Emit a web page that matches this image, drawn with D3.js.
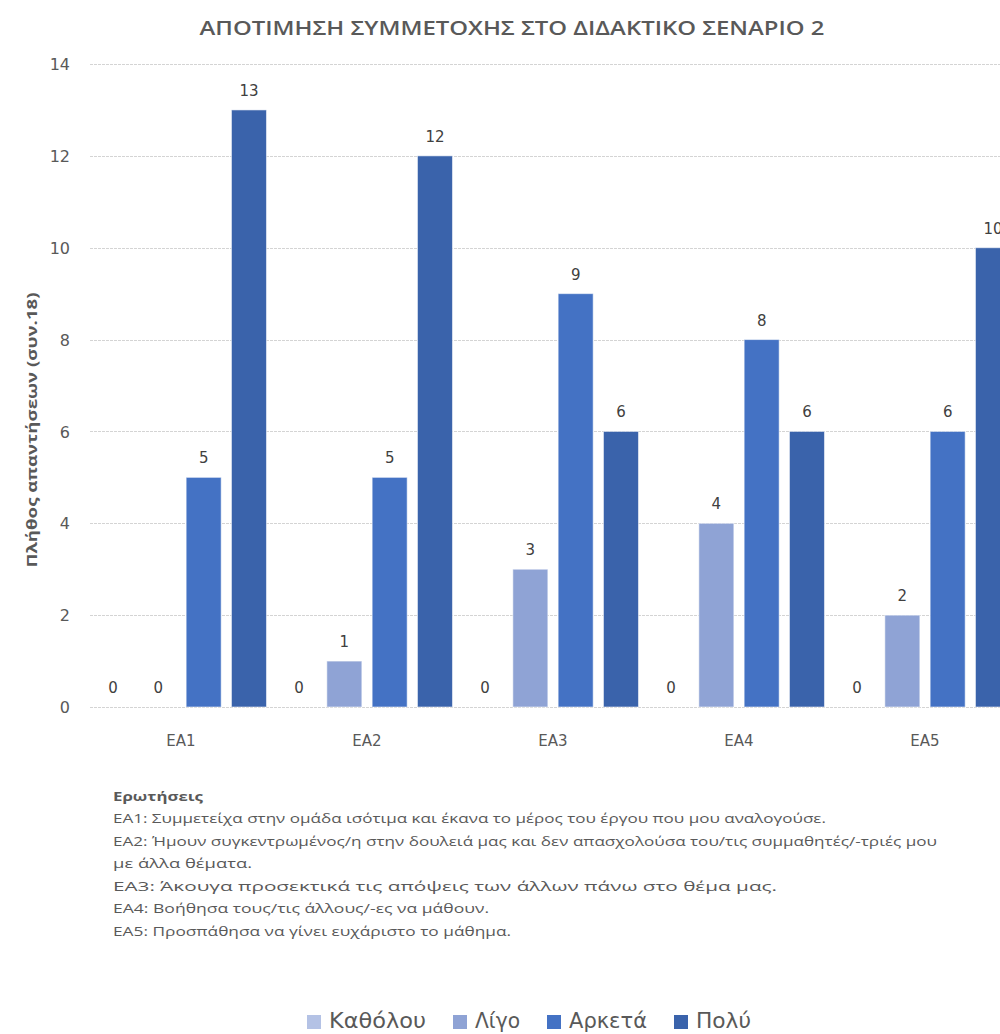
<!DOCTYPE html>
<html>
<head>
<meta charset="utf-8">
<script src="https://cdn.jsdelivr.net/npm/d3@7"></script>
<style>
  html, body { margin: 0; padding: 0; background: #ffffff; }
  svg { display: block; }
</style>
</head>
<body>
<svg id="chart" width="1000" height="1034"></svg>
<script>
// Question codes along the x axis
const categories = ["ΕΑ1", "ΕΑ2", "ΕΑ3", "ΕΑ4", "ΕΑ5"];
// Answer scale (one bar per answer in each group)
const seriesNames = ["Καθόλου", "Λίγο", "Αρκετά", "Πολύ"];
// Number of answers per question, per answer level
const kathólou = [0, 0, 0, 0, 0];
const lígo     = [0, 1, 3, 4, 2];
const arketá   = [5, 5, 9, 8, 6];
const polý     = [13, 12, 6, 6, 10];
const yTicks = [0, 2, 4, 6, 8, 10, 12, 14];

const seriesValues = [kathólou, lígo, arketá, polý];
const colors = ["#b4c2e5", "#8fa3d5", "#4472c4", "#3a63ab"];

const title = "ΑΠΟΤΙΜΗΣΗ ΣΥΜΜΕΤΟΧΗΣ ΣΤΟ ΔΙΔΑΚΤΙΚΟ ΣΕΝΑΡΙΟ 2";
const yTitle = "Πλήθος απαντήσεων (συν.18)";
const notesHeader = "Ερωτήσεις";
const notes = [
  "ΕΑ1: Συμμετείχα στην ομάδα ισότιμα και έκανα το μέρος του έργου που μου αναλογούσε.",
  "ΕΑ2: Ήμουν συγκεντρωμένος/η στην δουλειά μας και δεν απασχολούσα του/τις συμμαθητές/-τριές μου",
  "με άλλα θέματα.",
  "ΕΑ3: Άκουγα προσεκτικά τις απόψεις των άλλων πάνω στο θέμα μας.",
  "ΕΑ4: Βοήθησα τους/τις άλλους/-ες να μάθουν.",
  "ΕΑ5: Προσπάθησα να γίνει ευχάριστο το μάθημα."
];

const data = categories.map((c, i) => ({
  cat: c,
  vals: seriesNames.map((s, j) => ({ series: s, value: seriesValues[j][i], idx: j }))
}));

const svg = d3.select("#chart");
const textColor = "#595959";
const numFont = "'DejaVu Sans', Verdana, sans-serif";
const narrowFont = "'Open Sans', 'Noto Sans', sans-serif";

// Scales
const plotLeft = 88, bandW = 186;
const x0 = d3.scaleBand().domain(categories)
  .range([plotLeft, plotLeft + bandW * categories.length])
  .paddingInner(0).paddingOuter(0);
const x1 = d3.scaleBand().domain(seriesNames)
  .range([0, x0.bandwidth()])
  .paddingInner(0.227).paddingOuter(0.166);
const y = d3.scaleLinear().domain([0, 14]).range([707, 64]);

// Title
svg.append("text")
  .attr("x", 512).attr("y", 35)
  .attr("text-anchor", "middle")
  .attr("font-family", narrowFont)
  .attr("font-weight", 600)
  .attr("font-size", 19)
  .attr("fill", textColor)
  .attr("textLength", 625)
  .attr("lengthAdjust", "spacingAndGlyphs")
  .text(title);

// Gridlines
svg.append("g")
  .selectAll("line")
  .data(yTicks)
  .join("line")
  .attr("x1", 90).attr("x2", 1000)
  .attr("y1", d => Math.round(y(d)) + 0.5)
  .attr("y2", d => Math.round(y(d)) + 0.5)
  .attr("stroke", "#d4d4d4")
  .attr("stroke-width", 1)
  .attr("stroke-dasharray", "3,1");

// Y axis labels
const yAxis = d3.axisLeft(y).tickValues(yTicks).tickSize(0).tickPadding(0);
const yg = svg.append("g").attr("transform", "translate(70,0)").call(yAxis);
yg.select(".domain").remove();
yg.selectAll("text")
  .attr("font-family", numFont)
  .attr("font-size", 16)
  .attr("fill", textColor)
  .attr("dy", "0.35em");

// Y axis title
svg.append("text")
  .attr("transform", "translate(37,430) rotate(-90)")
  .attr("text-anchor", "middle")
  .attr("font-family", narrowFont)
  .attr("font-weight", 700)
  .attr("font-size", 15)
  .attr("fill", textColor)
  .attr("textLength", 275)
  .attr("lengthAdjust", "spacingAndGlyphs")
  .text(yTitle);

// X axis category labels
const xAxis = d3.axisBottom(x0).tickSize(0).tickPadding(0);
const xg = svg.append("g").attr("transform", `translate(0,${y(0)})`).call(xAxis);
xg.select(".domain").remove();
xg.selectAll("text")
  .attr("font-family", numFont)
  .attr("font-size", 15)
  .attr("fill", textColor)
  .attr("dy", 0)
  .attr("y", 39);

// Bars and value labels
const groups = svg.append("g")
  .selectAll("g")
  .data(data)
  .join("g")
  .attr("transform", d => `translate(${x0(d.cat)},0)`);

groups.selectAll("rect")
  .data(d => d.vals.filter(v => v.value > 0))
  .join("rect")
  .attr("x", v => x1(v.series))
  .attr("y", v => y(v.value))
  .attr("width", x1.bandwidth())
  .attr("height", v => y(0) - y(v.value))
  .attr("fill", v => colors[v.idx])
  .attr("stroke", "#ffffff")
  .attr("stroke-opacity", 0.55)
  .attr("stroke-width", 1);

groups.selectAll("text")
  .data(d => d.vals)
  .join("text")
  .attr("x", v => x1(v.series) + x1.bandwidth() / 2)
  .attr("y", v => y(v.value) - 14)
  .attr("text-anchor", "middle")
  .attr("font-family", numFont)
  .attr("font-size", 15)
  .attr("fill", "#404040")
  .text(v => v.value);

// Notes block under the chart
const notesG = svg.append("g").attr("font-family", narrowFont).attr("fill", textColor);
const noteWidths = [713, 824, 139, 664, 376, 398];
notesG.append("text")
  .attr("x", 113).attr("y", 801)
  .attr("font-size", 13)
  .attr("font-weight", 700)
  .attr("textLength", 90)
  .attr("lengthAdjust", "spacingAndGlyphs")
  .text(notesHeader);
notesG.selectAll("text.note")
  .data(notes)
  .join("text")
  .attr("class", "note")
  .attr("x", 113)
  .attr("y", (d, i) => 823 + i * 22.6)
  .attr("font-size", 13)
  .attr("textLength", (d, i) => noteWidths[i])
  .attr("lengthAdjust", "spacingAndGlyphs")
  .text(d => d);

// Legend: swatch, label, fixed label widths laid out left to right
const legendTextW = [97, 45, 78, 55];
const sw = 14, swGap = 8, itemGap = 27, legendStart = 307;
const offsets = [];
let cx = legendStart;
legendTextW.forEach(w => { offsets.push(cx); cx += sw + swGap + w + itemGap; });

const items = svg.append("g")
  .selectAll("g")
  .data(seriesNames)
  .join("g")
  .attr("transform", (d, i) => `translate(${offsets[i]},0)`);
items.append("rect")
  .attr("width", sw).attr("height", sw)
  .attr("y", 1015)
  .attr("fill", (d, i) => colors[i]);
items.append("text")
  .attr("x", sw + swGap).attr("y", 1028)
  .attr("font-family", numFont)
  .attr("font-size", 21)
  .attr("fill", textColor)
  .attr("textLength", (d, i) => legendTextW[i])
  .attr("lengthAdjust", "spacingAndGlyphs")
  .text(d => d);
</script>
</body>
</html>
